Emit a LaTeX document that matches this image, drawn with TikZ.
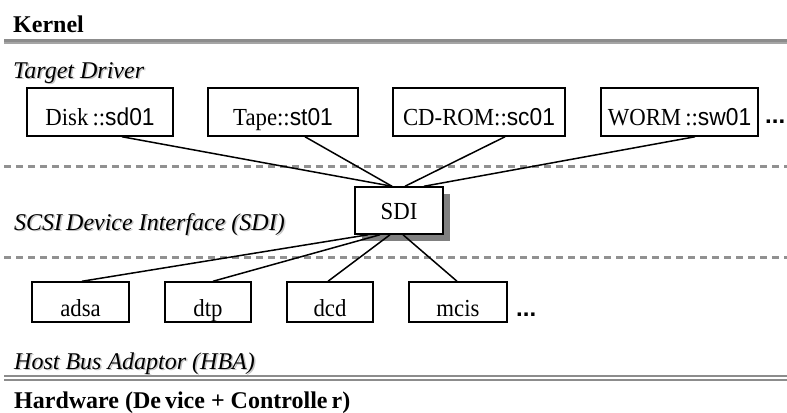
\documentclass[tikz,border=0pt]{standalone}
\usepackage{fontspec}
\setmainfont{Liberation Serif}
\newfontfamily\boxserif{Liberation Serif}[FakeStretch=0.93]
\newfontfamily\boxsans{Liberation Sans}[FakeStretch=0.93]
\newfontfamily\dotsans{Liberation Sans}
\usetikzlibrary{calc}
\definecolor{rulegray}{RGB}{140,140,140}
\definecolor{rulegraylight}{RGB}{165,165,165}
\definecolor{dashgray}{RGB}{145,145,145}
\definecolor{shadowgray}{RGB}{128,128,128}
\definecolor{textshadow}{RGB}{195,195,195}
\tikzset{
  modbox/.style={draw, line width=1.5bp, inner sep=0pt, fill=white,
    font=\boxserif\fontsize{24.5bp}{28bp}\selectfont},
  topbox/.style={modbox, minimum height=48bp, text height=26bp, text depth=0pt},
  botbox/.style={modbox, minimum height=40bp, text height=28bp, text depth=0pt},
  sdibox/.style={modbox, minimum width=88bp, minimum height=47bp, text height=18bp, text depth=0pt},
  link/.style={line width=1.5bp},
  layerlabel/.style={anchor=base west, inner sep=0pt,
    font=\fontsize{24bp}{28bp}\selectfont\itshape},
  layershadow/.style={layerlabel, text=textshadow},
  heading/.style={anchor=base west, inner sep=0pt,
    font=\fontsize{24bp}{28bp}\selectfont\bfseries},
  moredots/.style={anchor=base west, inner sep=0pt,
    font=\dotsans\bfseries\fontsize{24bp}{28bp}\selectfont},
  sep/.style={dashgray, line width=3bp, dash pattern=on 7bp off 5bp},
}
\begin{document}
\begin{tikzpicture}[x=1bp, y=-1bp]
\useasboundingbox (0,0) rectangle (787,412);

% headings
\node[heading] (kernel) at (13,32) {Kernel};
\node[heading] (hw) at (14,408) {Hardware (De\,vice + Controlle\,r)};

% rules
\draw[rulegray, line width=2.6bp] (4,40.3) -- (787,40.3);
\draw[rulegraylight, line width=2.6bp] (4,42.9) -- (787,42.9);
\draw[rulegray, line width=1.8bp] (4,375.6) -- (787,375.6);
\draw[rulegray, line width=1.8bp] (4,380.2) -- (787,380.2);
\draw[sep] (4,166) -- (787,166);
\draw[sep] (4,257) -- (787,257);

% layer labels (with soft shadow)
\node[layershadow] (tdS) at (14.5,79.5) {Target Driver};
\node[layerlabel] (td) at (13,78) {Target Driver};
\node[layershadow] (sdiS) at (15.5,231.5) {SCSI\,Device Interface (SDI)};
\node[layerlabel] (sdilab) at (14,230) {SCSI\,Device Interface (SDI)};
\node[layershadow] (hbaS) at (15.5,370.5) {Host Bus Adaptor (HBA)};
\node[layerlabel] (hba) at (14,369) {Host Bus Adaptor (HBA)};

% target drivers
\node[topbox, minimum width=146bp] (disk) at (100,112) {Disk\,::{\boxsans sd01}};
\node[topbox, minimum width=150bp] (tape) at (283,112) {Tape::{\boxsans st01}};
\node[topbox, minimum width=172bp] (cdrom) at (479,112) {CD-ROM::{\boxsans sc01}};
\node[topbox, minimum width=157bp] (worm) at (679.5,112) {WORM\,::{\boxsans sw01}};
\node[moredots] (topdots) at (765,123) {...};

% SDI with shadow
\fill[shadowgray] (362,194) rectangle (450,241);
\node[sdibox] (sdi) at (399,210.5) {SDI};

% HBA drivers
\node[botbox, minimum width=97bp] (adsa) at (80.5,302) {adsa};
\node[botbox, minimum width=86bp] (dtp) at (208,302) {dtp};
\node[botbox, minimum width=86bp] (dcd) at (330,302) {dcd};
\node[botbox, minimum width=98bp] (mcis) at (458,302) {mcis};
\node[moredots] (botdots) at (516,316) {...};

% connectors
\draw[link] ([xshift=22bp]disk.south) -- ([xshift=-7bp]sdi.north);
\draw[link] ([xshift=22bp]tape.south) -- ([xshift=-7bp]sdi.north);
\draw[link] ([xshift=26bp]cdrom.south) -- ([xshift=6bp]sdi.north);
\draw[link] ([xshift=15.5bp]worm.south) -- ([xshift=25bp]sdi.north);
\draw[link] ([xshift=-31bp]sdi.south) -- ([xshift=1.5bp]adsa.north);
\draw[link] ([xshift=-19bp]sdi.south) -- ([xshift=5bp]dtp.north);
\draw[link] ([xshift=-9bp]sdi.south) -- ([xshift=-2bp]dcd.north);
\draw[link] ([xshift=4bp]sdi.south) -- ([xshift=-1bp]mcis.north);
\end{tikzpicture}
\end{document}
